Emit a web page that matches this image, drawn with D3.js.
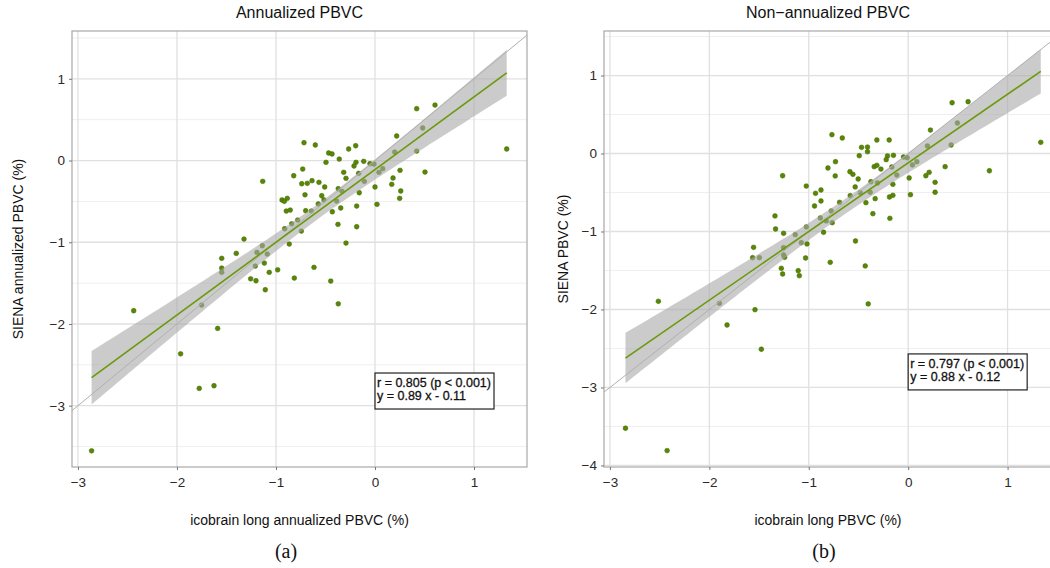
<!DOCTYPE html>
<html>
<head>
<meta charset="utf-8">
<script src="https://cdn.jsdelivr.net/npm/d3@7"></script>
<style>
  body { margin: 0; background: #fff; }
  svg { display: block; }
</style>
</head>
<body>
<script>
// panel (a): annualized PBVC, icobrain (x) vs SIENA (y)
const annX = [-1.134,-0.717,-0.603,-0.468,-0.434,-0.266,-0.195,0.219,0.482,0.421,0.199,-0.495,-0.361,-0.192,-0.212,-0.114,-0.051,-0.010,
  -0.730,-0.821,-0.316,-0.293,-0.165,0.078,0.040,0.253,0.505,0.182,-0.740,-0.684,-0.636,-0.566,-0.508,-0.108,0.0,0.169,-0.371,-0.333,
  0.260,-0.707,-0.538,-0.159,-0.939,-0.886,-0.916,-0.515,-0.387,0.249,-0.573,0.020,-0.896,-0.856,-0.700,-0.643,-0.431,-0.346,-0.185,
  -0.781,-0.841,-0.374,-0.185,-0.912,-0.744,-1.323,-1.138,-0.866,-0.293,-1.401,-1.192,-1.088,-1.548,-1.118,-1.209,-0.616,-1.548,-1.548,
  -0.983,-1.068,-1.256,-1.202,-0.815,-0.447,-1.108,-0.371,-2.437,-1.751,-1.589,-1.963,-1.775,-1.626,-2.862,0.421,0.606,1.330];
const annY = [-0.255,0.218,0.190,0.092,0.080,0.141,0.181,0.300,0.398,0.116,0.104,-0.022,0.018,-0.022,-0.067,-0.010,-0.039,-0.043,
  -0.104,-0.186,-0.144,-0.218,-0.157,-0.100,-0.144,-0.120,-0.141,-0.214,-0.284,-0.279,-0.247,-0.267,-0.324,-0.255,-0.324,-0.291,-0.345,-0.377,
  -0.373,-0.419,-0.431,-0.394,-0.483,-0.463,-0.499,-0.483,-0.496,-0.463,-0.532,-0.536,-0.618,-0.606,-0.614,-0.618,-0.627,-0.581,-0.557,
  -0.728,-0.774,-0.781,-0.810,-0.835,-0.863,-0.961,-1.043,-1.022,-1.010,-1.136,-1.124,-1.144,-1.197,-1.255,-1.291,-1.307,-1.316,-1.368,
  -1.337,-1.368,-1.447,-1.471,-1.438,-1.475,-1.581,-1.753,-1.838,-1.769,-2.054,-2.365,-2.788,-2.756,-3.552,0.634,0.679,0.141];

// panel (b): non-annualized PBVC
const rawX = [-1.263,-1.025,-0.767,-0.663,-0.807,-0.731,-0.734,-0.932,-0.877,-0.877,-0.942,-1.340,0.442,0.603,0.495,0.224,0.432,0.194,
  1.334,0.817,0.372,0.178,0.211,0.271,0.271,0.023,0.010,-0.315,-0.191,-0.469,-0.409,-0.409,-0.492,-0.208,-0.221,-0.148,-0.047,-0.010,
  -0.342,-0.315,-0.274,-0.164,0.043,0.087,-0.586,-0.556,-0.503,-0.114,-0.375,-0.309,-0.533,-0.154,-0.583,-0.482,-0.382,-0.188,-0.154,
  -0.690,-0.332,-0.425,-0.774,-0.884,-0.355,-0.184,-0.824,-0.764,-1.334,-1.253,-1.025,-1.136,-0.851,-1.555,-1.075,-1.018,-1.253,-0.530,
  -1.565,-1.497,-1.253,-1.243,-1.032,-0.784,-0.432,-1.276,-1.263,-1.106,-1.095,-0.402,-2.513,-1.899,-1.541,-1.822,-1.477,-2.844,-2.425];
const rawY = [-0.285,-0.417,0.241,0.199,-0.186,-0.105,-0.288,-0.510,-0.468,-0.609,-0.673,-0.801,0.651,0.664,0.391,0.301,0.109,0.096,
  0.144,-0.221,-0.169,-0.285,-0.241,-0.369,-0.497,-0.528,-0.314,0.173,0.173,0.079,0.083,0.023,-0.028,-0.032,-0.079,-0.023,-0.045,-0.054,
  -0.169,-0.151,-0.199,-0.173,-0.147,-0.105,-0.233,-0.267,-0.327,-0.276,-0.362,-0.378,-0.429,-0.395,-0.541,-0.503,-0.497,-0.558,-0.536,
  -0.626,-0.579,-0.631,-0.737,-0.827,-0.772,-0.831,-0.865,-0.887,-0.968,-1.023,-0.942,-1.041,-1.010,-1.203,-1.144,-1.160,-1.208,-1.122,
  -1.336,-1.336,-1.301,-1.331,-1.340,-1.395,-1.442,-1.472,-1.545,-1.503,-1.567,-1.929,-1.895,-1.921,-2.003,-2.199,-2.510,-3.523,-3.810];

// reported fits [slope, intercept]
const annFit = [0.89, -0.11];
const rawFit = [0.88, -0.12];
const annNote = ["r = 0.805 (p < 0.001)", "y = 0.89 x - 0.11"];
const rawNote = ["r = 0.797 (p < 0.001)", "y = 0.88 x - 0.12"];

const xTicks = [-3, -2, -1, 0, 1];
const annYTicks = [-3, -2, -1, 0, 1];
const rawYTicks = [-4, -3, -2, -1, 0, 1];

const svg = d3.select("body").append("svg")
  .attr("width", 1050)
  .attr("height", 568)
  .style("font-family", "'Liberation Sans', Arial, sans-serif");

function drawPanel(p) {
  const x = d3.scaleLinear().domain(p.xDomain).range([p.left, p.right]);
  const y = d3.scaleLinear().domain(p.yDomain).range([p.bottom, p.top]);
  const g = svg.append("g");

  g.append("clipPath").attr("id", p.id)
    .append("rect")
    .attr("x", p.left).attr("y", p.top)
    .attr("width", p.right - p.left).attr("height", p.bottom - p.top);

  const plot = g.append("g").attr("clip-path", `url(#${p.id})`);

  // minor + major grid
  const xMinor = d3.range(Math.ceil(p.xDomain[0] * 2) / 2, p.xDomain[1], 1).filter(v => v % 1 !== 0);
  const yMinor = d3.range(-4.5, 2, 1).filter(v => v > p.yDomain[0] && v < p.yDomain[1]);
  plot.selectAll(".xm").data(xMinor).join("line")
    .attr("x1", d => x(d)).attr("x2", d => x(d))
    .attr("y1", p.top).attr("y2", p.bottom)
    .attr("stroke", "#efefef").attr("stroke-width", 1);
  plot.selectAll(".ym").data(yMinor).join("line")
    .attr("x1", p.left).attr("x2", p.right)
    .attr("y1", d => y(d)).attr("y2", d => y(d))
    .attr("stroke", "#efefef").attr("stroke-width", 1);
  plot.selectAll(".xg").data(xTicks).join("line")
    .attr("x1", d => x(d)).attr("x2", d => x(d))
    .attr("y1", p.top).attr("y2", p.bottom)
    .attr("stroke", "#e0e0e0").attr("stroke-width", 1.3);
  plot.selectAll(".yg").data(p.yTicks).join("line")
    .attr("x1", p.left).attr("x2", p.right)
    .attr("y1", d => y(d)).attr("y2", d => y(d))
    .attr("stroke", "#e0e0e0").attr("stroke-width", 1.3);

  // points
  const pts = p.xs.map((v, i) => [v, p.ys[i]]);
  plot.selectAll("circle").data(pts).join("circle")
    .attr("cx", d => x(d[0])).attr("cy", d => y(d[1]))
    .attr("r", 2.4)
    .attr("fill", "#588605")
    .attr("stroke", "#456a00").attr("stroke-width", 0.5);

  // 95% confidence band of the linear fit
  const [b, a] = p.fit;
  const n = pts.length;
  const xbar = d3.mean(p.xs);
  const sxx = d3.sum(p.xs, v => (v - xbar) ** 2);
  const s = Math.sqrt(d3.sum(pts, d => (d[1] - (a + b * d[0])) ** 2) / (n - 2));
  const t = 1.986;
  const [x0, x1] = d3.extent(p.xs);
  const grid = d3.range(0, 81).map(i => x0 + (x1 - x0) * i / 80);
  const band = grid.map(v => {
    const se = s * Math.sqrt(1 / n + (v - xbar) ** 2 / sxx);
    return { x: v, lo: a + b * v - t * se, hi: a + b * v + t * se };
  });
  plot.append("path").datum(band)
    .attr("d", d3.area().x(d => x(d.x)).y0(d => y(d.lo)).y1(d => y(d.hi)))
    .attr("fill", "#a8a8a8").attr("fill-opacity", 0.6);

  // identity line
  plot.append("line")
    .attr("x1", x(-5)).attr("y1", y(-5))
    .attr("x2", x(3)).attr("y2", y(3))
    .attr("stroke", "#b0b0b0").attr("stroke-width", 1);

  // fitted line
  plot.append("line")
    .attr("x1", x(x0)).attr("y1", y(a + b * x0))
    .attr("x2", x(x1)).attr("y2", y(a + b * x1))
    .attr("stroke", "#6a9a0a").attr("stroke-width", 1.6);

  // panel border
  g.append("rect")
    .attr("x", p.left).attr("y", p.top)
    .attr("width", p.right - p.left).attr("height", p.bottom - p.top)
    .attr("fill", "none").attr("stroke", "#a8a8a8").attr("stroke-width", 1.2);

  // axes
  const xa = g.append("g").attr("transform", `translate(0,${p.bottom})`)
    .call(d3.axisBottom(x).tickValues(xTicks).tickSize(3).tickPadding(7).tickFormat(d3.format("d")));
  const ya = g.append("g").attr("transform", `translate(${p.left},0)`)
    .call(d3.axisLeft(y).tickValues(p.yTicks).tickSize(3).tickPadding(4).tickFormat(d3.format("d")));
  [xa, ya].forEach(ax => {
    ax.select(".domain").remove();
    ax.selectAll(".tick line").attr("stroke", "#777");
    ax.selectAll(".tick text").attr("fill", "#2a2a2a").style("font-size", "13.5px")
      .style("font-family", "'Liberation Sans', Arial, sans-serif");
  });

  // correlation note
  const nx = x(0), ny = y(p.noteY);
  const note = g.append("g");
  note.append("rect")
    .attr("x", nx).attr("y", ny).attr("width", 119).attr("height", 36)
    .attr("fill", "#fff").attr("stroke", "#222").attr("stroke-width", 1.2);
  note.selectAll("text").data(p.note).join("text")
    .attr("x", nx + 2).attr("y", (d, i) => ny + 14 + i * 13)
    .attr("fill", "#111").attr("stroke", "#111").attr("stroke-width", 0.3)
    .style("font-size", "12.5px")
    .text(d => d);

  // titles
  const cx = (p.left + p.right) / 2;
  g.append("text").attr("x", cx).attr("y", 18).attr("text-anchor", "middle")
    .style("font-size", "16px").attr("fill", "#111").text(p.title);
  g.append("text").attr("x", cx).attr("y", 525).attr("text-anchor", "middle")
    .style("font-size", "14px").attr("fill", "#111").text(p.xTitle);
  g.append("text")
    .attr("transform", `translate(${p.yTitleX},${(p.top + p.bottom) / 2}) rotate(-90)`)
    .attr("text-anchor", "middle").attr("dy", "0.35em")
    .style("font-size", "14px").attr("fill", "#111").text(p.yTitle);
  g.append("text").attr("x", p.tagX).attr("y", 558).attr("text-anchor", "middle")
    .style("font-family", "'Liberation Serif', 'Times New Roman', serif")
    .style("font-size", "20px").attr("fill", "#111").text(p.tag);
}

drawPanel({
  id: "clipA", left: 72, right: 527, top: 31, bottom: 467,
  xDomain: [-3.06, 1.535], yDomain: [-3.75, 1.585], yTicks: annYTicks,
  xs: annX, ys: annY, fit: annFit, note: annNote, noteY: -2.6,
  title: "Annualized PBVC", xTitle: "icobrain long annualized PBVC (%)",
  yTitle: "SIENA annualized PBVC (%)", yTitleX: 18, tag: "(a)", tagX: 286
});

drawPanel({
  id: "clipB", left: 604, right: 1052, top: 31, bottom: 467,
  xDomain: [-3.06, 1.447], yDomain: [-4.02, 1.571], yTicks: rawYTicks,
  xs: rawX, ys: rawY, fit: rawFit, note: rawNote, noteY: -2.57,
  title: "Non\u2212annualized PBVC", xTitle: "icobrain long PBVC (%)",
  yTitle: "SIENA PBVC (%)", yTitleX: 563, tag: "(b)", tagX: 824
});
</script>
</body>
</html>
